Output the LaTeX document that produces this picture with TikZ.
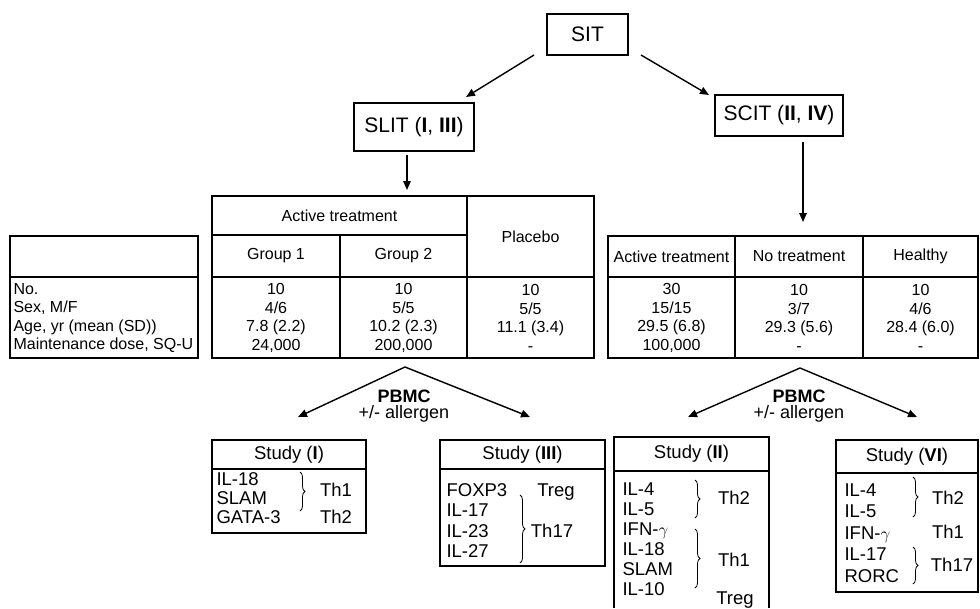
\documentclass[tikz,border=0pt]{standalone}
\usepackage{fontspec}
\setmainfont{Liberation Sans}
\usetikzlibrary{positioning,arrows.meta,decorations.pathreplacing}

\begin{document}
\begin{tikzpicture}[x=1pt,y=-1pt,line width=1.1pt,
    topbox/.style={draw,font=\fontsize{21}{24}\selectfont,inner sep=0pt,outer sep=0pt},
    cell/.style={font=\fontsize{16}{18.5}\selectfont,align=center,inner sep=0pt},
    study/.style={draw,font=\fontsize{18.5}{20}\selectfont,inner sep=0pt,outer sep=0pt},
    mk/.style={font=\fontsize{18.5}{#1}\selectfont,align=left,anchor=west,inner sep=0pt},
    th/.style={font=\fontsize{18.5}{20}\selectfont,inner sep=0pt},
    pbmc/.style={font=\fontsize{18}{16.5}\selectfont,align=center,inner sep=0pt},
    arr/.style={line width=1.4pt,-{Triangle[length=9pt,width=7.5pt]}},
    brc/.style={line width=0.8pt,decorate,decoration={brace,amplitude=5pt}}]
                \useasboundingbox (0,0) rectangle (980,608);
                \node[topbox,minimum width=81pt,minimum height=41pt] (sit) at (587.5,34.5) {SIT};
                \node[topbox,minimum width=120pt,minimum height=48pt] (slit) at (414,127) {SLIT (\textbf{I}, \textbf{III})};
                \node[topbox,minimum width=128pt,minimum height=41pt] (scit) at (779,115.5) {SCIT (\textbf{II}, \textbf{IV})};
                \coordinate (slitin) at (407,190);
                \coordinate (scitin) at (803,222);
                \draw[arr] ([xshift=-13pt]sit.south west) -- ([xshift=-8pt,yshift=6pt]slit.north east);
                \draw[arr] ([xshift=13pt]sit.south east) -- ([xshift=-6pt]scit.north west);
                \draw[arr] ([xshift=-7pt,yshift=-4pt]slit.south) -- (slitin);
                \draw[arr] ([xshift=24pt,yshift=-6pt]scit.south) -- (scitin);
                \draw (10,236) rectangle (198,358) (10,277) -- (198,277);
                \draw (212,196) rectangle (594,358) (467,196) -- (467,358) (212,235) -- (467,235)
                      (340,235) -- (340,358) (212,277) -- (594,277);
                \draw (608,236) rectangle (978,358) (735,236) -- (735,358) (863,236) -- (863,358)
                      (608,277) -- (978,277);
                \node[cell] (act) at (339.5,215.5) {Active treatment};
                \node[cell] (grp1) at (276,256) {Group 1};
                \node[cell] (grp2) at (403.5,256) {Group 2};
                \node[cell] (plac) at (530.5,236.5) {Placebo};
                \node[cell] (sact) at (671.5,256.5) {Active treatment};
                \node[cell] (snot) at (799,256.5) {No treatment};
                \node[cell] (shea) at (920.5,256.5) {Healthy};
                \node[cell,anchor=west,align=left] (lbl) at (13,318) {No.\\Sex, M/F\\Age, yr (mean (SD))\\Maintenance dose, SQ-U};
                \node[cell] (dg1) at (276,318) {10\\4/6\\7.8 (2.2)\\24,000};
                \node[cell] (dg2) at (403.5,318) {10\\5/5\\10.2 (2.3)\\200,000};
                \node[cell] (dpl) at (530.5,318) {10\\5/5\\11.1 (3.4)\\-};
                \node[cell] (dsa) at (671.5,318) {30\\15/15\\29.5 (6.8)\\100,000};
                \node[cell] (dsn) at (799,318) {10\\3/7\\29.3 (5.6)\\-};
                \node[cell] (dsh) at (920.5,318) {10\\4/6\\28.4 (6.0)\\-};
                \coordinate (pkL) at (405,367);
                \coordinate (pkR) at (800,368);
                \coordinate (toI) at (298,417);
                \coordinate (toIII) at (530,417);
                \coordinate (toII) at (688,417);
                \coordinate (toVI) at (917,417);
                \node[pbmc] (pbmcL) at (404,406) {\textbf{PBMC}\\+/- allergen};
                \node[pbmc] (pbmcR) at (799,406) {\textbf{PBMC}\\+/- allergen};
                \draw[arr] (pkL) -- (toI);
                \draw[arr] (pkL) -- (toIII);
                \draw[arr] (pkR) -- (toII);
                \draw[arr] (pkR) -- (toVI);
                \node[study,minimum width=154pt,minimum height=29pt] (stI) at (289,454.5) {Study (\textbf{I})};
                \draw (stI.south west) rectangle +(154,64);
                \node[study,minimum width=165pt,minimum height=29pt] (stIII) at (522.5,454.5) {Study (\textbf{III})};
                \draw (stIII.south west) rectangle +(165,97);
                \node[study,minimum width=155pt,minimum height=34pt] (stII) at (691.5,454) {Study (\textbf{II})};
                \draw (stII.south west) -- +(0,137) (stII.south east) -- +(0,137);
                \node[study,minimum width=142pt,minimum height=33pt] (stVI) at (907,456.5) {Study (\textbf{VI})};
                \draw (stVI.south west) rectangle +(142,119);
                \node[mk=19] (cI) at (216,498) {IL-18\\SLAM\\GATA-3};
                \node[mk=20.3] (cIII) at (446,520.5) {FOXP3\\IL-17\\IL-23\\IL-27};
                \node[mk=20] (cII) at (622,539) {IL-4\\IL-5\\IFN-$\gamma$\\IL-18\\SLAM\\IL-10};
                \node[mk=21.5] (cVI) at (844,533) {IL-4\\IL-5\\IFN-$\gamma$\\IL-17\\RORC};
                \draw[brc] (300,472) -- (300,511);
                \node[th] (thIa) at (336,490) {Th1};
                \node[th] (thIb) at (336,517) {Th2};
                \draw[brc] (520,495) -- (520,563);
                \node[th] (thIIIa) at (556,492) {Treg};
                \node[th] (thIIIb) at (552,531) {Th17};
                \draw[brc] (695,480) -- (695,518);
                \draw[brc] (695,529) -- (695,588);
                \node[th] (thIIa) at (734,498) {Th2};
                \node[th] (thIIb) at (734,560) {Th1};
                \node[th] (thIIc) at (735,600) {Treg};
                \draw[brc] (913,477) -- (913,517);
                \draw[brc] (913,547) -- (913,584);
                \node[th] (thVIa) at (948,498) {Th2};
                \node[th] (thVIb) at (948,532) {Th1};
                \node[th] (thVIc) at (952,565) {Th17};
            \end{tikzpicture}
\end{document}
